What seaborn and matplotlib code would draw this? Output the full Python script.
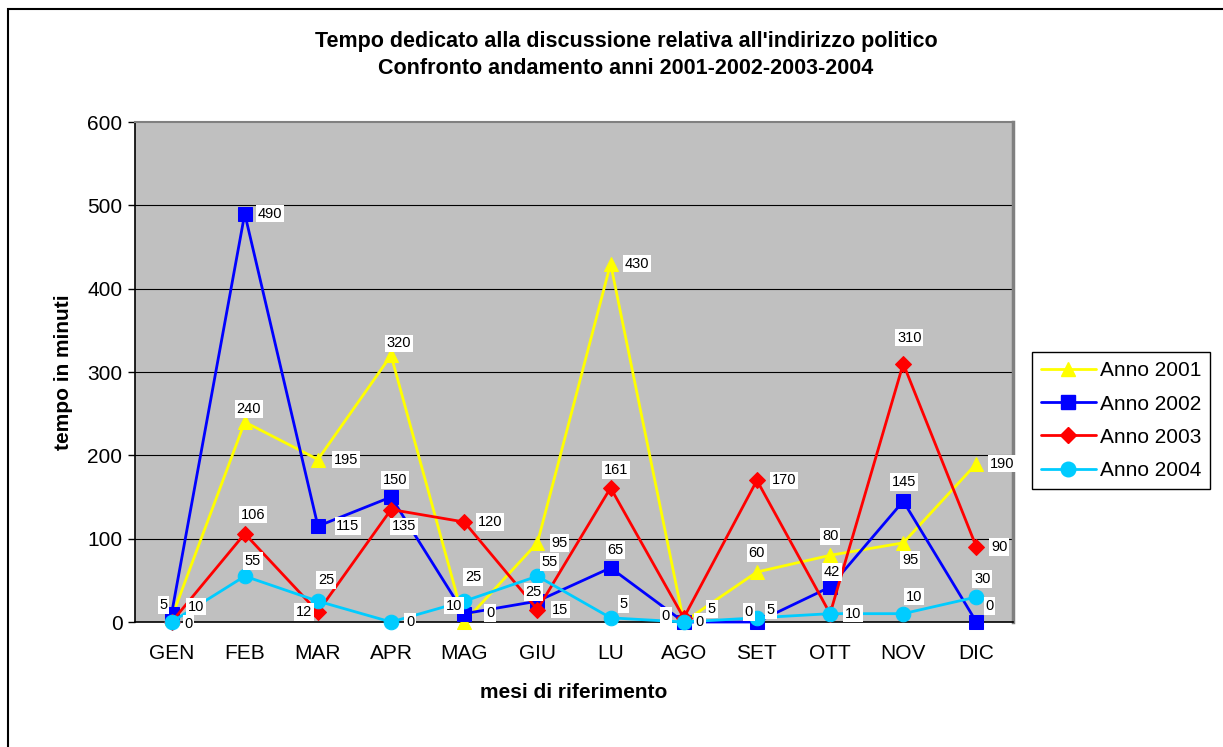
import numpy as np
import pandas as pd
import matplotlib
matplotlib.use("Agg")
import matplotlib.pyplot as plt
import seaborn as sns
from matplotlib.lines import Line2D
from matplotlib.patches import Rectangle

# Months and minutes spent per year
mesi = ["GEN", "FEB", "MAR", "APR", "MAG", "GIU", "LU", "AGO", "SET", "OTT", "NOV", "DIC"]
anno_2001 = [5, 240, 195, 320, 0, 95, 430, 0, 60, 80, 95, 190]
anno_2002 = [10, 490, 115, 150, 10, 25, 65, 0, 0, 42, 145, 0]
anno_2003 = [0, 106, 12, 135, 120, 15, 161, 5, 170, 10, 310, 90]
anno_2004 = [0, 55, 25, 0, 25, 55, 5, 0, 5, 10, 10, 30]
serie_nomi = ["Anno 2001", "Anno 2002", "Anno 2003", "Anno 2004"]
y_ticks = [0, 100, 200, 300, 400, 500, 600]
titolo_1 = "Tempo dedicato alla discussione relativa all'indirizzo politico"
titolo_2 = "Confronto andamento anni 2001-2002-2003-2004"

# Styling per series
colori = ["#FFFF00", "#0000FF", "#FF0000", "#00CCFF"]
marcatori = ["^", "s", "D", "o"]
dim_marcatori = [10.5, 9.5, 8, 10.5]

# Label placement (pixels, x right / y down) relative to each point; None = label hidden
# behind an identical one
offset_etichette = [
    [(-8, -13), (4, -13), (28, 0), (8, -12), (26, -9), (22, 0), (26, 0), (-18, -6), (0, -19), (0, -19), (7, 17), (26, 0)],
    [(24, -7), (25, 0), (30, 0), (4, -17), (-10, -8), (-4, -9), (5, -18), (16, 0), (-8, -10), (2, -15), (1, -19), (13, -16)],
    [(17, 2), (8, -19), (-14, 0), (13, 17), (26, 0), (23, 0), (5, -18), (28, -9), (27, 0), None, (6, -26), (23, 0)],
    [None, (8, -15), (8, -21), (19, 0), (9, -24), (12, -14), (13, -14), None, (14, -8), (23, 0), (11, -17), (6, -18)],
]

valori = [anno_2001, anno_2002, anno_2003, anno_2004]
pos = np.arange(len(mesi))
df = pd.concat(
    [pd.DataFrame({"pos": pos, "mese": mesi, "minuti": v, "serie": n}) for v, n in zip(valori, serie_nomi)],
    ignore_index=True,
)

sns.set_theme(style="white")
plt.rcParams["font.family"] = ["Liberation Sans", "DejaVu Sans"]
plt.rcParams["text.color"] = "black"
plt.rcParams["axes.labelcolor"] = "black"
plt.rcParams["xtick.color"] = "black"
plt.rcParams["ytick.color"] = "black"

fig = plt.figure(figsize=(12.23, 7.47), dpi=100)
ax = fig.add_axes([135 / 1223, 1 - 622 / 747, (1013 - 135) / 1223, 500 / 747])
ax.set_facecolor("#C0C0C0")

for nome, col, mk, ms in zip(serie_nomi, colori, marcatori, dim_marcatori):
    sub = df[df["serie"] == nome]
    sns.lineplot(data=sub, x="pos", y="minuti", color=col, marker=mk, markersize=ms,
                 markeredgecolor=col, linewidth=2.0, sort=False, ax=ax, legend=False)
for line in ax.lines:
    line.set_clip_on(False)
    line.set_zorder(3)

# Value labels in white boxes
for v, offs in zip(valori, offset_etichette):
    for i, (val, off) in enumerate(zip(v, offs)):
        if off is None:
            continue
        dx, dy = off
        ax.annotate(str(val), (pos[i], val), xytext=(dx, -dy), textcoords="offset pixels",
                    ha="center", va="center", fontsize=10.5, color="black", zorder=6,
                    annotation_clip=False,
                    bbox=dict(boxstyle="square,pad=0.12", fc="white", ec="none"))

ax.set_xlim(-0.5, len(mesi) - 0.5)
ax.set_ylim(0, 600)
ax.set_yticks(y_ticks)
ax.set_yticklabels([str(t) for t in y_ticks], fontsize=15)
ax.set_xticks(pos)
ax.set_xticklabels(mesi, fontsize=15)
ax.set_xticks(np.arange(-0.5, len(mesi), 1), minor=True)
ax.tick_params(axis="x", which="major", length=0, pad=16)
ax.tick_params(axis="x", which="minor", length=5, width=1, color="black", direction="out")
ax.tick_params(axis="y", which="major", length=5, width=1, color="black", direction="out", pad=4, left=True)

for y in y_ticks[1:-1]:
    ax.axhline(y, color="black", lw=0.8, zorder=1)

ax.spines["left"].set_color("black")
ax.spines["bottom"].set_color("black")
ax.spines["left"].set_linewidth(1.2)
ax.spines["bottom"].set_linewidth(1.2)
ax.spines["top"].set_color("#808080")
ax.spines["top"].set_linewidth(1.5)
ax.spines["right"].set_color("#808080")
ax.spines["right"].set_linewidth(2.5)

ax.set_xlabel("mesi di riferimento", fontsize=15, fontweight="bold", labelpad=14)
ax.set_ylabel("tempo in minuti", fontsize=15, fontweight="bold", labelpad=10)

fig.text(626 / 1223, 1 - 41 / 747, titolo_1, ha="center", va="center", fontsize=15.5, fontweight="bold")
fig.text(626 / 1223, 1 - 69 / 747, titolo_2, ha="center", va="center", fontsize=15.5, fontweight="bold")

handles = [Line2D([0], [0], color=c, marker=m, markersize=s, markeredgecolor=c, lw=2.0)
           for c, m, s in zip(colori, marcatori, dim_marcatori)]
leg = fig.legend(handles, serie_nomi, loc="upper left", bbox_to_anchor=(1032 / 1223, 1 - 352 / 747),
                 fontsize=15, frameon=True, fancybox=False, edgecolor="black", framealpha=1,
                 handlelength=2.6, labelspacing=0.68, borderpad=0.45, handletextpad=0.2, borderaxespad=0)
leg.get_frame().set_linewidth(1.0)

# Outer chart border
fig.patches.append(Rectangle((8 / 1223, -0.1), 1.2, 1.1 - 9 / 747, transform=fig.transFigure,
                             fill=False, ec="black", lw=1.5))

fig.savefig("out.png", dpi=100, facecolor="white")
